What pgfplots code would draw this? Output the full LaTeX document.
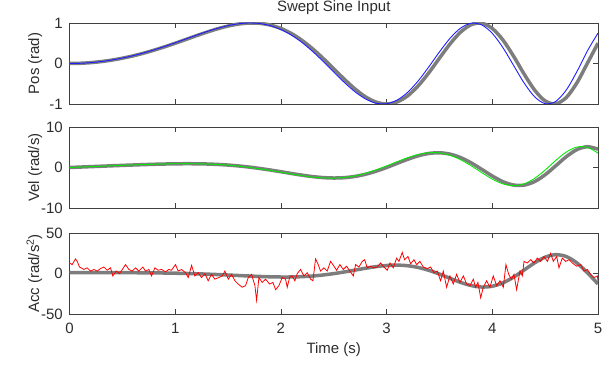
\documentclass[border=0pt]{standalone}
\usepackage{fontspec}
\setmainfont{Liberation Sans}
\usepackage{pgfplots}
\pgfplotsset{compat=1.18}
\definecolor{mgray}{RGB}{125,125,125}
\definecolor{mblue}{RGB}{30,30,255}
\definecolor{mgreen}{RGB}{0,235,0}
\definecolor{mred}{RGB}{255,0,0}
\definecolor{txt}{RGB}{45,45,45}
\pgfplotsset{
  mystyle/.style={
    scale only axis, width=528.5pt, height=81pt,
    anchor=south west,
    xmin=0, xmax=5, xtick={0,1,2,3,4,5},
    tick align=inside, major tick length=5pt,
    axis line style={black!75, line width=0.8pt},
    every tick/.style={black!75, line width=0.8pt},
    tick label style={font=\fontsize{15}{18}\selectfont, text=txt},
    label style={font=\fontsize{15}{18}\selectfont, text=txt},
    /pgf/number format/assume math mode=true,
    yticklabel style={anchor=east, inner sep=0pt, xshift=-6.5pt},
    xticklabel style={anchor=base, inner sep=0pt, yshift=-19pt},
    ylabel style={at={(axis description cs:-0.0577,0.5)}, anchor=base},
    grayline/.style={mgray, line width=3.5pt, smooth},
  }
}
\begin{document}
\begin{tikzpicture}
\useasboundingbox (0pt,0pt) rectangle (615pt,364pt);
% ---------------- Position
\begin{axis}[mystyle, at={(69.5pt,260pt)},
  ymin=-1, ymax=1, ytick={-1,0,1}, xticklabels={},
  ylabel={Pos (rad)},
  title={Swept Sine Input},
  every axis title/.style={at={(axis description cs:0.5,1)}, anchor=base, inner sep=0pt, yshift=11pt, font=\fontsize{15}{18}\selectfont, text=txt}]
\addplot[grayline] coordinates {
(0,0) (0.1,0.005) (0.2,0.021) (0.3,0.047) (0.4,0.084) (0.5,0.131) (0.6,0.187) (0.7,0.254) (0.8,0.329) (0.9,0.412)
(1.0,0.500) (1.1,0.592) (1.2,0.685) (1.3,0.774) (1.4,0.856) (1.5,0.924) (1.6,0.974) (1.7,0.998) (1.8,0.992) (1.9,0.949)
(2.0,0.866) (2.1,0.739) (2.2,0.570) (2.3,0.363) (2.4,0.125) (2.5,-0.131) (2.6,-0.388) (2.7,-0.626) (2.8,-0.822) (2.9,-0.953)
(3.0,-1.000) (3.1,-0.949) (3.2,-0.796) (3.3,-0.548) (3.4,-0.227) (3.5,0.132) (3.6,0.483) (3.7,0.775) (3.8,0.958) (3.9,0.994)
(4.0,0.865) (4.1,0.582) (4.2,0.186) (4.3,-0.256) (4.4,-0.655) (4.5,-0.925) (4.6,-0.996) (4.7,-0.840) (4.8,-0.480) (4.9,0.008)
(5.0,0.502)};
\addplot[mblue, line width=0.9pt, smooth] coordinates {
(0,0) (0.1,0.005) (0.2,0.021) (0.3,0.048) (0.4,0.086) (0.5,0.134) (0.6,0.192) (0.7,0.260) (0.8,0.337) (0.9,0.421)
(1.0,0.511) (1.1,0.605) (1.2,0.698) (1.3,0.788) (1.4,0.868) (1.5,0.935) (1.6,0.981) (1.7,1.000) (1.8,0.986) (1.9,0.934)
(2.0,0.839) (2.1,0.700) (2.2,0.518) (2.3,0.298) (2.4,0.051) (2.5,-0.211) (2.6,-0.467) (2.7,-0.696) (2.8,-0.875) (2.9,-0.980)
(3.0,-0.993) (3.1,-0.903) (3.2,-0.709) (3.3,-0.426) (3.4,-0.080) (3.5,0.286) (3.6,0.622) (3.7,0.874) (3.8,0.994) (3.9,0.953)
(4.0,0.744) (4.1,0.394) (4.2,-0.041) (4.3,-0.477) (4.4,-0.821) (4.5,-0.992) (4.6,-0.936) (4.7,-0.654) (4.8,-0.202) (4.9,0.312)
(5.0,0.750)};
\end{axis}
% ---------------- Velocity
\begin{axis}[mystyle, at={(69.5pt,156pt)},
  ymin=-10, ymax=10, ytick={-10,0,10}, xticklabels={},
  ylabel={Vel (rad/s)}]
\addplot[grayline] coordinates {
(0,0) (0.1,0.105) (0.2,0.209) (0.3,0.314) (0.4,0.418) (0.5,0.519) (0.6,0.617) (0.7,0.709) (0.8,0.791) (0.9,0.859)
(1.0,0.907) (1.1,0.929) (1.2,0.916) (1.3,0.862) (1.4,0.759) (1.5,0.601) (1.6,0.382) (1.7,0.102) (1.8,-0.237) (1.9,-0.625)
(2.0,-1.048) (2.1,-1.481) (2.2,-1.893) (2.3,-2.245) (2.4,-2.494) (2.5,-2.596) (2.6,-2.510) (2.7,-2.206) (2.8,-1.672) (2.9,-0.921)
(3.0,0.003) (3.1,1.022) (3.2,2.029) (3.3,2.891) (3.4,3.468) (3.5,3.634) (3.6,3.302) (3.7,2.451) (3.8,1.145) (3.9,-0.455)
(4.0,-2.101) (4.1,-3.492) (4.2,-4.323) (4.3,-4.354) (4.4,-3.483) (4.5,-1.795) (4.6,0.413) (4.7,2.669) (4.8,4.411) (4.9,5.132)
(5.0,4.529)};
\addplot[mgreen, line width=0.9pt, smooth] coordinates {
(0,0) (0.1,0.107) (0.2,0.215) (0.3,0.322) (0.4,0.428) (0.5,0.532) (0.6,0.632) (0.7,0.725) (0.8,0.808) (0.9,0.876)
(1.0,0.922) (1.1,0.940) (1.2,0.922) (1.3,0.860) (1.4,0.745) (1.5,0.572) (1.6,0.336) (1.7,0.036) (1.8,-0.323) (1.9,-0.730)
(2.0,-1.168) (2.1,-1.610) (2.2,-2.020) (2.3,-2.356) (2.4,-2.572) (2.5,-2.623) (2.6,-2.467) (2.7,-2.080) (2.8,-1.455) (2.9,-0.617)
(3.0,0.376) (3.1,1.430) (3.2,2.421) (3.3,3.205) (3.4,3.637) (3.5,3.599) (3.6,3.026) (3.7,1.931) (3.8,0.429) (3.9,-1.268)
(4.0,-2.868) (4.1,-4.045) (4.2,-4.504) (4.3,-4.056) (4.4,-2.694) (4.5,-0.623) (4.6,1.734) (4.7,3.816) (4.8,5.045) (4.9,4.996)
(5.0,3.547)};
\end{axis}
% ---------------- Acceleration
\begin{axis}[mystyle, at={(69.5pt,50pt)},
  ymin=-50, ymax=50, ytick={-50,0,50},
  ylabel={Acc (rad/s\textsuperscript{2})},
  xlabel={Time (s)},
  xlabel style={at={(axis description cs:0.5,0)}, anchor=base, yshift=-39.5pt}]
\addplot[grayline] coordinates {
(0,1.047) (0.1,1.047) (0.2,1.046) (0.3,1.042) (0.4,1.029) (0.5,1.003) (0.6,0.955) (0.7,0.877) (0.8,0.758) (0.9,0.589)
(1.0,0.359) (1.1,0.058) (1.2,-0.318) (1.3,-0.772) (1.4,-1.297) (1.5,-1.880) (1.6,-2.495) (1.7,-3.105) (1.8,-3.658) (1.9,-4.089)
(2.0,-4.323) (2.1,-4.282) (2.2,-3.888) (2.3,-3.082) (2.4,-1.828) (2.5,-0.139) (2.6,1.913) (2.7,4.188) (2.8,6.469) (2.9,8.474)
(3.0,9.873) (3.1,10.336) (3.2,9.575) (3.3,7.424) (3.4,3.901) (3.5,-0.733) (3.6,-5.949) (3.7,-10.972) (3.8,-14.870) (3.9,-16.699)
(4.0,-15.711) (4.1,-11.588) (4.2,-4.621) (4.3,4.172) (4.4,13.118) (4.5,20.143) (4.6,23.218) (4.7,20.931) (4.8,13.044) (4.9,0.845)
(5.0,-12.864)};
\addplot[mred, line width=0.8pt] coordinates {
(0.000,13) (0.025,11) (0.057,18) (0.073,15) (0.095,8) (0.136,5) (0.167,7) (0.199,3) (0.230,5) (0.262,3)
(0.293,6) (0.325,8) (0.356,4) (0.388,7) (0.410,-3) (0.442,3) (0.473,0) (0.505,6) (0.530,11) (0.562,5)
(0.593,3) (0.625,7) (0.656,3) (0.694,8) (0.719,3) (0.751,5) (0.776,-3) (0.808,7) (0.839,4) (0.871,5)
(0.909,2) (0.940,5) (0.965,4) (1.003,11) (1.028,3) (1.060,5) (1.098,1) (1.123,-5) (1.155,10) (1.186,-3)
(1.218,1) (1.249,-5) (1.281,0) (1.312,-9) (1.344,-1) (1.375,-7) (1.413,-5) (1.445,-3) (1.470,3) (1.502,-7)
(1.533,-1) (1.565,-9) (1.596,-13) (1.634,-17) (1.666,-15) (1.691,-5) (1.722,-1) (1.754,-15) (1.770,-33) (1.792,-5)
(1.823,-11) (1.855,-7) (1.893,-13) (1.924,-11) (1.950,-20) (1.981,-15) (2.013,-5) (2.044,-7) (2.060,-17) (2.082,-5)
(2.107,-3) (2.132,-9) (2.155,0) (2.186,5) (2.218,-3) (2.249,1) (2.281,-7) (2.303,-9) (2.328,18) (2.353,11)
(2.375,3) (2.407,7) (2.438,3) (2.470,15) (2.502,9) (2.527,4) (2.558,11) (2.590,5) (2.621,9) (2.653,3)
(2.685,-3) (2.707,11) (2.738,8) (2.770,15) (2.792,17) (2.817,7) (2.849,9) (2.880,7) (2.912,8) (2.943,13)
(2.975,8) (3.006,4) (3.032,13) (3.063,7) (3.095,19) (3.117,15) (3.148,26) (3.170,17) (3.202,21) (3.227,12)
(3.259,17) (3.284,11) (3.315,15) (3.347,8) (3.385,6) (3.416,8) (3.448,1) (3.479,3) (3.511,-9) (3.536,3)
(3.568,-17) (3.599,-3) (3.631,-13) (3.662,-1) (3.694,-11) (3.726,-3) (3.757,-13) (3.789,-15) (3.820,-7) (3.842,-17)
(3.864,-11) (3.890,-30) (3.915,-17) (3.946,-9) (3.978,-17) (4.009,-3) (4.041,-15) (4.073,-9) (4.104,-17) (4.129,11)
(4.155,-1) (4.180,-7) (4.205,-1) (4.230,-20) (4.262,3) (4.284,-3) (4.300,15) (4.331,13) (4.363,17) (4.394,13)
(4.426,19) (4.457,15) (4.489,21) (4.521,15) (4.552,25) (4.577,15) (4.609,21) (4.631,7) (4.662,19) (4.694,15)
(4.726,17) (4.757,13) (4.798,9) (4.836,11) (4.868,3) (4.899,5) (4.931,-1) (4.962,-5) (4.994,-3) (5.000,-9)};
\end{axis}
\end{tikzpicture}
\end{document}
